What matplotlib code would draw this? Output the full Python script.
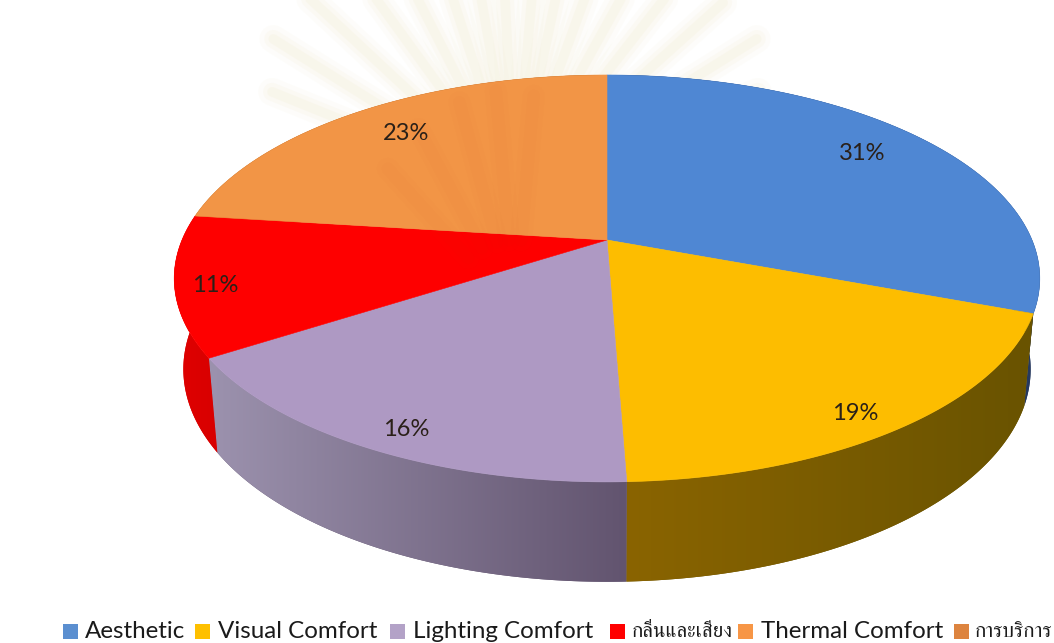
import numpy as np
import matplotlib
matplotlib.use("Agg")
import matplotlib.pyplot as plt
from matplotlib.patches import Polygon, Rectangle
from matplotlib.colors import LinearSegmentedColormap

# ---- data ----
categories = ["Aesthetic", "Visual Comfort", "Lighting Comfort", "กลิ่นและเสียง", "Thermal Comfort", "การบริการ"]
values = [30.7, 18.7, 16.5, 11.1, 23.0, 0.0]

# ---- style ----
top_colors = ["#4f87d3", "#fdbd00", "#ae99c3", "#fe0000", "#f29546", "#e0853f"]
legend_colors = ["#5b8fd0", "#fec000", "#b3a2c7", "#ff0000", "#f79646", "#dd843f"]
wall_left = ["#26395f", "#8a6400", "#9c92ae", "#e00000", "#9a5a20", "#8a5020"]
wall_right = ["#26395f", "#695300", "#62546f", "#d80000", "#9a5a20", "#8a5020"]
label_xy = [(862, 153), (855, 414), (406, 429), (215, 285), (406, 133)]
legend_marker_x = [63, 195, 390, 610, 738, 954]
legend_text_x = [85, 218, 413, 632, 761, 975]

W, H = 1054, 643
CX, CY = 607, 240
C, K, M = 0.189, 196.2, 425
M2, K2, D = 416, 205, 89

fam_latin = ["Lato", "DejaVu Sans"]
fam_thai = ["FreeSerif", "Loma", "DejaVu Sans"]
plt.rcParams["font.family"] = fam_latin

fig = plt.figure(figsize=(W / 100, H / 100), dpi=100)
ax = fig.add_axes([0, 0, 1, 1])
ax.axis("off")


def top_rim(theta):
    u, v = np.sin(theta), np.cos(theta)
    den = 1 + C * v
    return CX + M * u / den, CY - K * v / den


def bottom_rim(theta):
    u, v = np.sin(theta), np.cos(theta)
    den = 1 + C * v
    return CX + M2 * u / den, CY + D - K2 * v / den


# faint, soft watermark rays behind the pie
ray_deg = [-68, -58, -47, -36, -27, -18, -10, -3, 5, 12, 20, 29, 38, 48, 58, 68]
ray_len = [262, 285, 280, 270, 250, 235, 225, 220, 220, 225, 235, 250, 270, 280, 285, 262]
for a, r in zip(np.deg2rad(ray_deg), ray_len):
    for lw, al in [(20, 0.12), (13, 0.18), (7, 0.25)]:
        ax.plot([515 + 90 * np.sin(a), 515 + r * np.sin(a)],
                [190 - 90 * np.cos(a), 190 - r * np.cos(a)],
                color="#f3eed6", lw=lw, alpha=al, solid_capstyle="round", zorder=1)

edges = 2 * np.pi * np.cumsum([0] + values) / sum(values)

# side walls
for i, val in enumerate(values):
    if val <= 0:
        continue
    th = np.linspace(edges[i], edges[i + 1], 200)
    x1, y1 = top_rim(th)
    x2, y2 = bottom_rim(th)
    poly = Polygon(np.r_[np.c_[x1, y1], np.c_[x2, y2][::-1]], closed=True,
                   fc=wall_right[i], ec="none", zorder=2)
    ax.add_patch(poly)
    cm = LinearSegmentedColormap.from_list("w", [wall_left[i], wall_right[i]])
    xmin, xmax = min(x1.min(), x2.min()), max(x1.max(), x2.max())
    ymin, ymax = min(y1.min(), y2.min()), max(y1.max(), y2.max())
    im = ax.imshow(np.linspace(0, 1, 256)[None, :], cmap=cm, aspect="auto",
                   extent=(xmin, xmax, ymax, ymin), zorder=2.1, interpolation="bilinear")
    im.set_clip_path(poly)

# top faces
for i, val in enumerate(values):
    if val <= 0:
        continue
    th = np.linspace(edges[i], edges[i + 1], 200)
    x1, y1 = top_rim(th)
    ax.add_patch(Polygon(np.r_[[[CX, CY]], np.c_[x1, y1]], closed=True,
                         fc=top_colors[i], ec=top_colors[i], lw=0.4, zorder=3))

# faint watermark over the pie
for a, r in zip(np.deg2rad([-42, -28, -15, -5, 5]), [190, 205, 215, 220, 215]):
    for lw, al in [(16, 0.015), (9, 0.02)]:
        ax.plot([515 + 70 * np.sin(a), 515 + r * np.sin(a)],
                [310 - 70 * np.cos(a), 310 - r * np.cos(a)],
                color="#c04020", lw=lw, alpha=al, solid_capstyle="round", zorder=4)

# value labels
for val, (lx, ly) in zip(values, label_xy):
    ax.text(lx, ly, f"{val:.0f}%", ha="center", va="center", fontsize=17,
            color="#2a2018", zorder=5)

# legend
for name, col, mx, tx in zip(categories, legend_colors, legend_marker_x, legend_text_x):
    ax.add_patch(Rectangle((mx, 624), 15, 15, fc=col, ec="none", zorder=5))
    is_thai = any(0x0E00 <= ord(c) <= 0x0E7F for c in name)
    ax.text(tx, 632, name, ha="left", va="center", zorder=5, color="#1a1a1a",
            fontsize=15 if is_thai else 17.4, family=fam_thai if is_thai else fam_latin)

ax.set_xlim(0, W)
ax.set_ylim(H, 0)
fig.savefig("out.png", dpi=100, facecolor="white")
